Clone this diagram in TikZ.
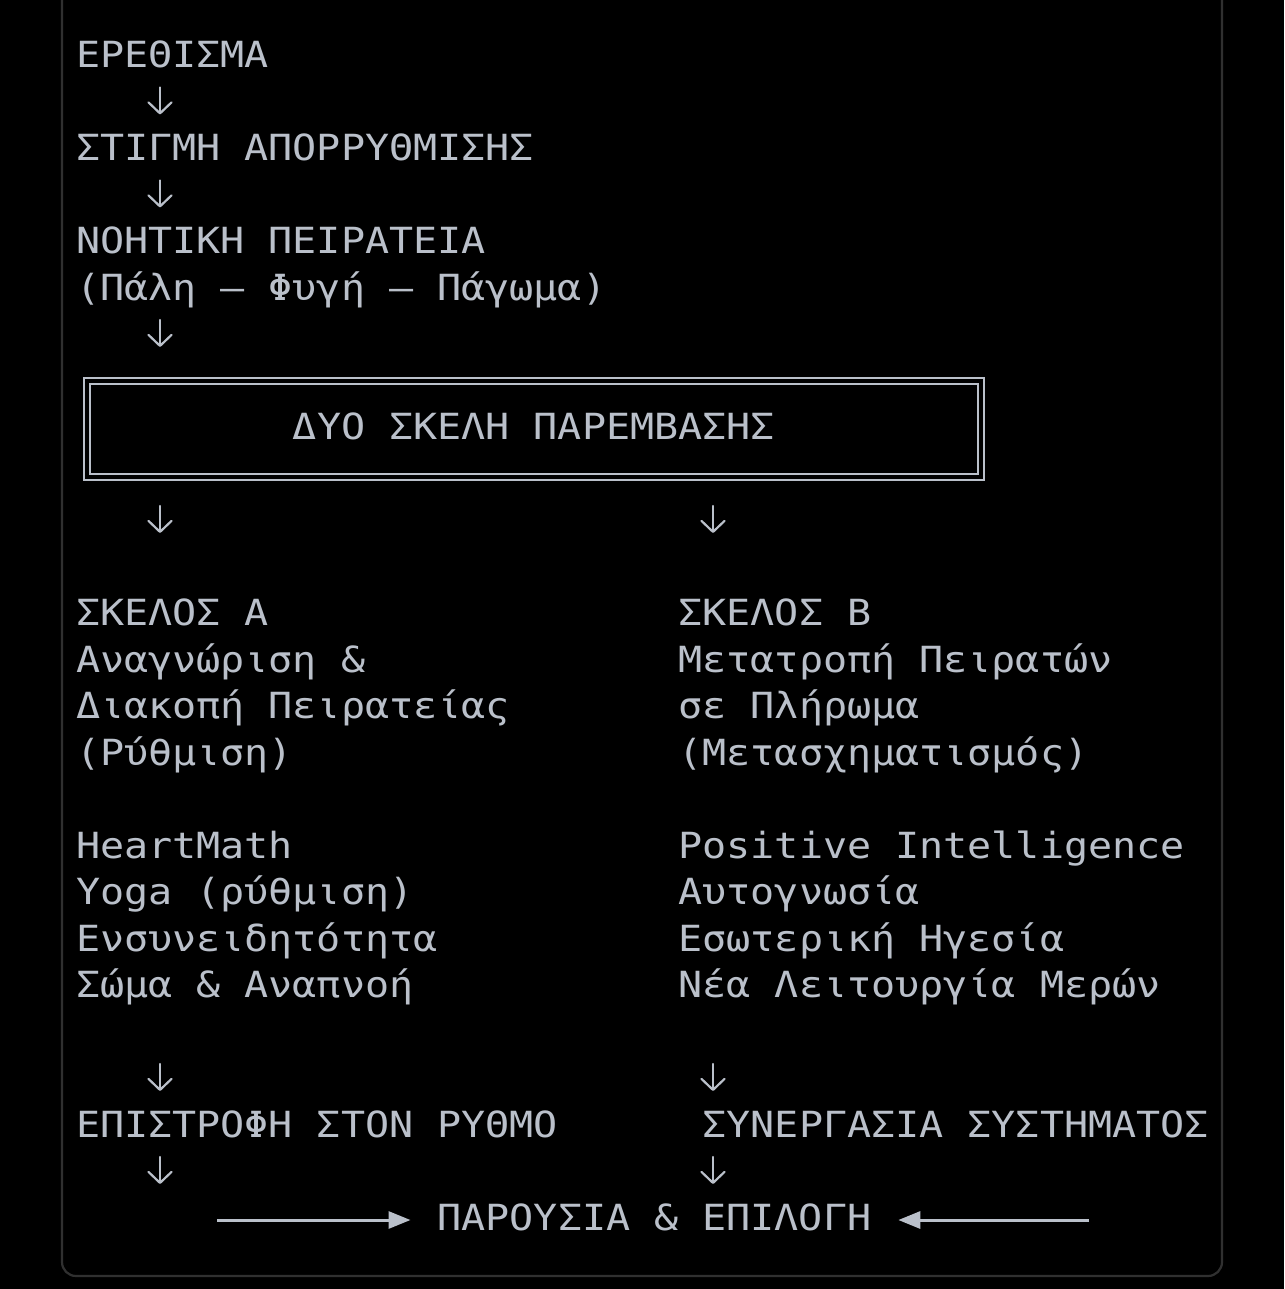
\documentclass[tikz,border=0pt]{standalone}
\usepackage{fontspec}
\newfontfamily\monof[FakeStretch=1.112]{DejaVu Sans Mono}
\usetikzlibrary{arrows.meta}
\definecolor{fg}{HTML}{BAC0CA}
\definecolor{framec}{HTML}{303030}
\tikzset{
  txt/.style={anchor=base west, inner sep=0pt, outer sep=0pt, text=fg,
    font=\monof\fontsize{36}{46.5}\selectfont},
  boxst/.style={draw=fg, double=black, line width=2pt, double distance=4pt,
    minimum width=894pt, minimum height=96pt, inner sep=0pt},
  harr/.style={draw=fg, line width=3pt, -{Triangle[length=22pt,width=17pt]}},
  varr/.style={draw=fg, line width=2.2pt, line cap=round,
    -{Straight Barb[length=11pt,width=23pt,round]}},
}
\begin{document}
\begin{tikzpicture}[x=1pt,y=-1pt]
\useasboundingbox (0,0) rectangle (1284,1289);
\fill[black] (0,0) rectangle (1284,1289);
\draw[framec, line width=2.2pt, rounded corners=14pt] (62,-30) rectangle (1222,1276);

% arrow coordinates (top / bottom of each down arrow)
\foreach \n/\x/\y in {d1/160/101.5, d2/160/194.5, d3/160/334, d4/160/520, d5/713/520,
                      d6/160/1078, d7/713/1078, d8/160/1171, d9/713/1171}{
  \coordinate (\n t) at (\x,\y-14);
  \coordinate (\n b) at (\x,\y+13);
}

% top chain
\node[txt] (erethisma) at (76,67.5) {ΕΡΕΘΙΣΜΑ};
\node[txt] (stigmi) at (76,160.5) {ΣΤΙΓΜΗ ΑΠΟΡΡΥΘΜΙΣΗΣ};
\node[txt] (noitiki) at (76,253.5) {ΝΟΗΤΙΚΗ ΠΕΙΡΑΤΕΙΑ};
\node[txt] (pali) at (76,300) {(Πάλη — Φυγή — Πάγωμα)};

% box
\node[boxst] (box) at (534,429) {};
\node[txt] (boxtxt) at (292.9,439.5) {ΔΥΟ ΣΚΕΛΗ ΠΑΡΕΜΒΑΣΗΣ};

% leg A
\node[txt] (skA) at (76,625.5) {ΣΚΕΛΟΣ Α};
\node[txt] (a2) at (76,672) {Αναγνώριση \&};
\node[txt] (a3) at (76,718.5) {Διακοπή Πειρατείας};
\node[txt] (a4) at (76,765) {(Ρύθμιση)};
\node[txt] (a5) at (76,858) {HeartMath};
\node[txt] (a6) at (76,904.5) {Yoga (ρύθμιση)};
\node[txt] (a7) at (76,951) {Ενσυνειδητότητα};
\node[txt] (a8) at (76,997.5) {Σώμα \& Αναπνοή};

% leg B
\node[txt] (skB) at (678.5,625.5) {ΣΚΕΛΟΣ Β};
\node[txt] (b2) at (678.5,672) {Μετατροπή Πειρατών};
\node[txt] (b3) at (678.5,718.5) {σε Πλήρωμα};
\node[txt] (b4) at (678.5,765) {(Μετασχηματισμός)};
\node[txt] (b5) at (678.5,858) {Positive Intelligence};
\node[txt] (b6) at (678.5,904.5) {Αυτογνωσία};
\node[txt] (b7) at (678.5,951) {Εσωτερική Ηγεσία};
\node[txt] (b8) at (678.5,997.5) {Νέα Λειτουργία Μερών};

\node[txt] (epistrofi) at (76,1137) {ΕΠΙΣΤΡΟΦΗ ΣΤΟΝ ΡΥΘΜΟ};
\node[txt] (synergasia) at (702.6,1137) {ΣΥΝΕΡΓΑΣΙΑ ΣΥΣΤΗΜΑΤΟΣ};

\node[txt] (pres) at (437.5,1230) {ΠΑΡΟΥΣΙΑ \& ΕΠΙΛΟΓΗ};

% down arrows
\foreach \n in {d1,d2,d3,d4,d5,d6,d7,d8,d9}{
  \draw[varr] (\n t) -- (\n b);
}

% horizontal arrows
\coordinate (la) at (217,1220);
\coordinate (ra) at (1089,1220);
\draw[harr, shorten >=27pt] (la) -- (la -| pres.west);
\draw[harr, shorten >=27pt] (ra) -- (ra -| pres.east);
\end{tikzpicture}
\end{document}
